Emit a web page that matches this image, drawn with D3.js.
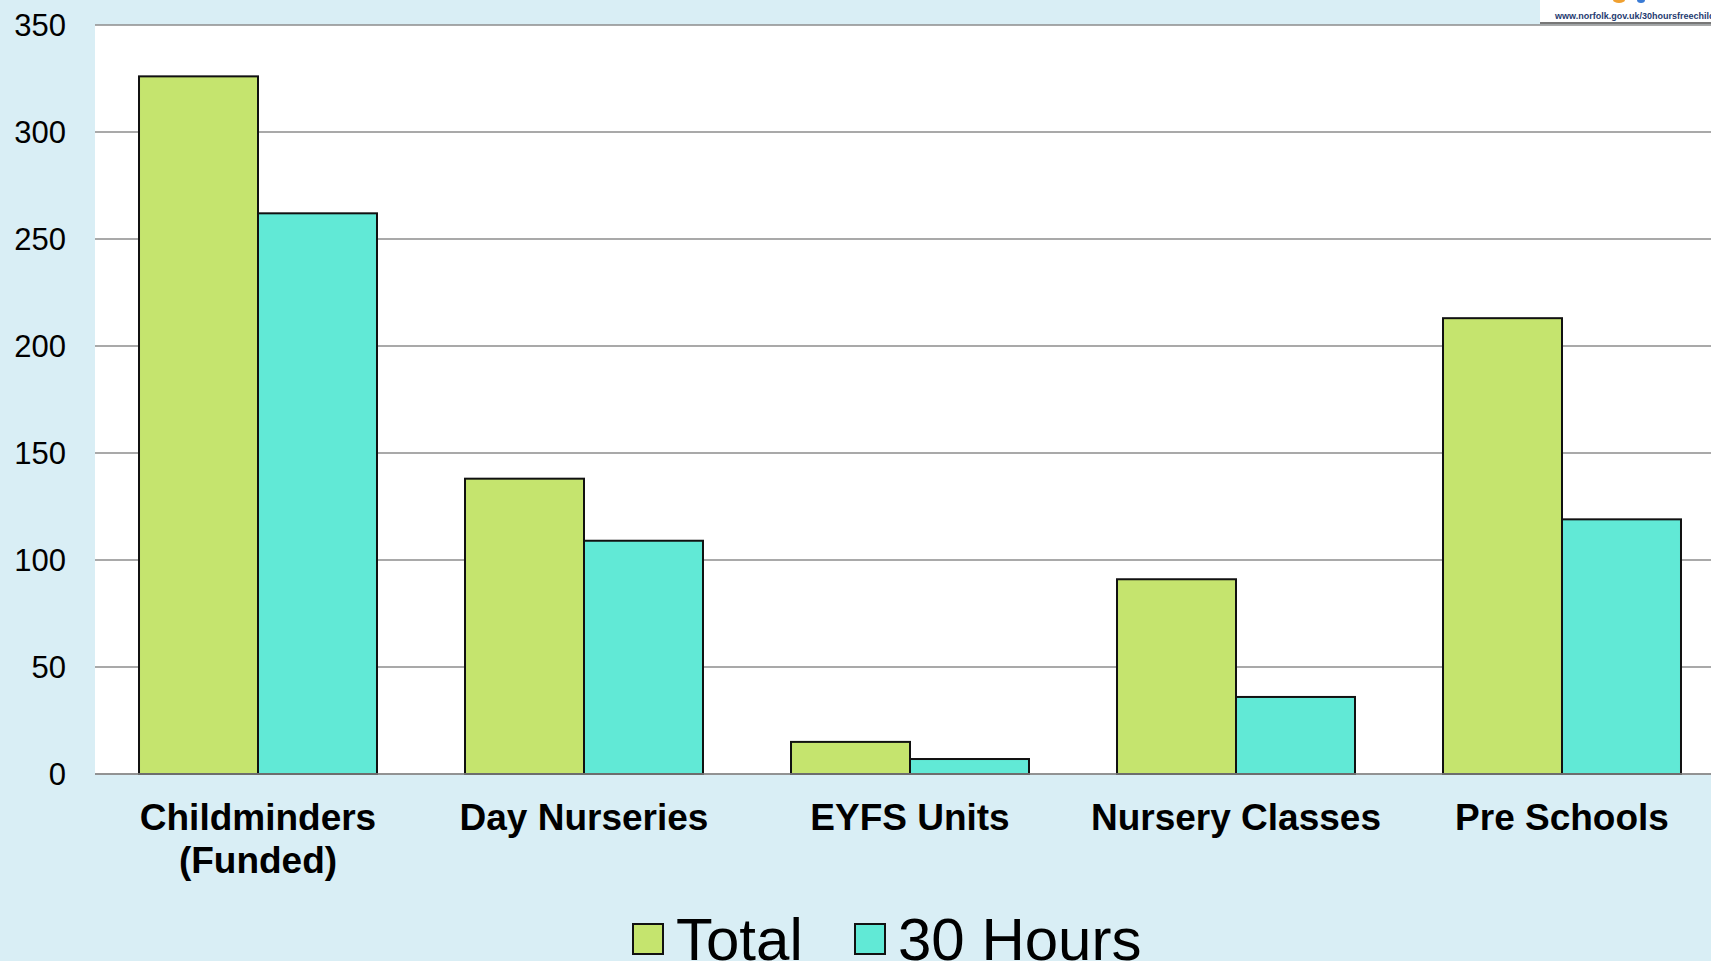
<!DOCTYPE html>
<html>
<head>
<meta charset="utf-8">
<script src="https://cdnjs.cloudflare.com/ajax/libs/d3/7.8.5/d3.min.js"></script>
<style>
  html, body { margin: 0; padding: 0; background: #d9eef5; }
  svg { display: block; font-family: "Liberation Sans", Arial, sans-serif; }
</style>
</head>
<body>
<div id="chart"></div>
<script>
// chart data
const categories = ["Childminders (Funded)", "Day Nurseries", "EYFS Units", "Nursery Classes", "Pre Schools"];
const seriesNames = ["Total", "30 Hours"];
const totalValues = [326, 138, 15, 91, 213];
const hoursValues = [262, 109, 7, 36, 119];
const yTicks = [0, 50, 100, 150, 200, 250, 300, 350];

const colors = ["#c5e46e", "#61e9d6"];

const svgWidth = 1711;
const svgHeight = 961;

// plot area (runs off the right edge like the original slide)
const plot = { left: 95, right: 1725, top: 25, bottom: 774 };

const svg = d3.select("#chart")
  .append("svg")
  .attr("width", svgWidth)
  .attr("height", svgHeight);

svg.append("rect")
  .attr("width", svgWidth)
  .attr("height", svgHeight)
  .attr("fill", "#d9eef5");

// white plot background
svg.append("rect")
  .attr("x", plot.left)
  .attr("y", plot.top)
  .attr("width", plot.right - plot.left)
  .attr("height", plot.bottom - plot.top)
  .attr("fill", "#ffffff");

const x0 = d3.scaleBand()
  .domain(categories)
  .range([plot.left, plot.right])
  .paddingInner(0.27)
  .paddingOuter(0.135);

const x1 = d3.scaleBand()
  .domain(seriesNames)
  .range([0, x0.bandwidth()]);

const y = d3.scaleLinear()
  .domain([0, 350])
  .range([plot.bottom, plot.top]);

// gridlines
svg.append("g")
  .selectAll("line")
  .data(yTicks)
  .enter()
  .append("line")
  .attr("x1", plot.left)
  .attr("x2", svgWidth)
  .attr("y1", d => y(d))
  .attr("y2", d => y(d))
  .attr("stroke", "#8c8c8c")
  .attr("stroke-width", 1.6);

// y tick labels
svg.append("g")
  .selectAll("text")
  .data(yTicks)
  .enter()
  .append("text")
  .attr("x", 66)
  .attr("y", d => y(d))
  .attr("dy", "0.36em")
  .attr("text-anchor", "end")
  .attr("font-size", "31px")
  .attr("fill", "#000")
  .text(d => d);

// bars
const rows = categories.map((c, i) => ({ cat: c, values: [totalValues[i], hoursValues[i]] }));

const groups = svg.append("g")
  .selectAll("g")
  .data(rows)
  .enter()
  .append("g")
  .attr("transform", d => `translate(${x0(d.cat)},0)`);

groups.selectAll("rect")
  .data(d => d.values.map((v, j) => ({ name: seriesNames[j], value: v, idx: j })))
  .enter()
  .append("rect")
  .attr("x", d => x1(d.name))
  .attr("y", d => y(d.value))
  .attr("width", x1.bandwidth())
  .attr("height", d => y(0) - y(d.value))
  .attr("fill", d => colors[d.idx])
  .attr("stroke", "#111")
  .attr("stroke-width", 2);

// baseline on top of bars
svg.append("line")
  .attr("x1", plot.left)
  .attr("x2", svgWidth)
  .attr("y1", y(0))
  .attr("y2", y(0))
  .attr("stroke", "#8c8c8c")
  .attr("stroke-width", 1.6);

// category labels (two lines for the first one)
const labelLines = {
  "Childminders (Funded)": ["Childminders", "(Funded)"]
};

svg.append("g")
  .selectAll("text")
  .data(categories)
  .enter()
  .append("text")
  .attr("x", d => x0(d) + x0.bandwidth() / 2)
  .attr("y", 830)
  .attr("text-anchor", "middle")
  .attr("font-size", "37px")
  .attr("font-weight", "bold")
  .attr("fill", "#000")
  .each(function(d) {
    const lines = labelLines[d] || [d];
    const t = d3.select(this);
    lines.forEach((ln, k) => {
      t.append("tspan")
        .attr("x", x0(d) + x0.bandwidth() / 2)
        .attr("dy", k === 0 ? 0 : 43)
        .text(ln);
    });
  });

// legend
const legendItems = [
  { name: "Total", x: 633 },
  { name: "30 Hours", x: 855 }
];

const legend = svg.append("g")
  .selectAll("g")
  .data(legendItems)
  .enter()
  .append("g")
  .attr("transform", d => `translate(${d.x},0)`);

legend.append("rect")
  .attr("x", 0)
  .attr("y", 924)
  .attr("width", 30)
  .attr("height", 30)
  .attr("fill", (d, i) => colors[i])
  .attr("stroke", "#111")
  .attr("stroke-width", 2);

legend.append("text")
  .attr("x", 43)
  .attr("y", 960)
  .attr("font-size", "60px")
  .attr("fill", "#000")
  .text(d => d.name);

// corner of the logo image in the top right
const logo = svg.append("g");
logo.append("rect")
  .attr("x", 1540)
  .attr("y", 0)
  .attr("width", 171)
  .attr("height", 22)
  .attr("fill", "#ffffff");
logo.append("line")
  .attr("x1", 1540)
  .attr("x2", 1711)
  .attr("y1", 23)
  .attr("y2", 23)
  .attr("stroke", "#777")
  .attr("stroke-width", 2);
logo.append("text")
  .attr("x", 1555)
  .attr("y", 19)
  .attr("font-size", "9px")
  .attr("font-weight", "bold")
  .attr("fill", "#1f3b70")
  .text("www.norfolk.gov.uk/30hoursfreechildcare");
logo.append("ellipse")
  .attr("cx", 1619).attr("cy", 0).attr("rx", 6).attr("ry", 3)
  .attr("fill", "#f0a030");
logo.append("ellipse")
  .attr("cx", 1641).attr("cy", 0).attr("rx", 4).attr("ry", 3)
  .attr("fill", "#3a7bd5");
</script>
</body>
</html>
